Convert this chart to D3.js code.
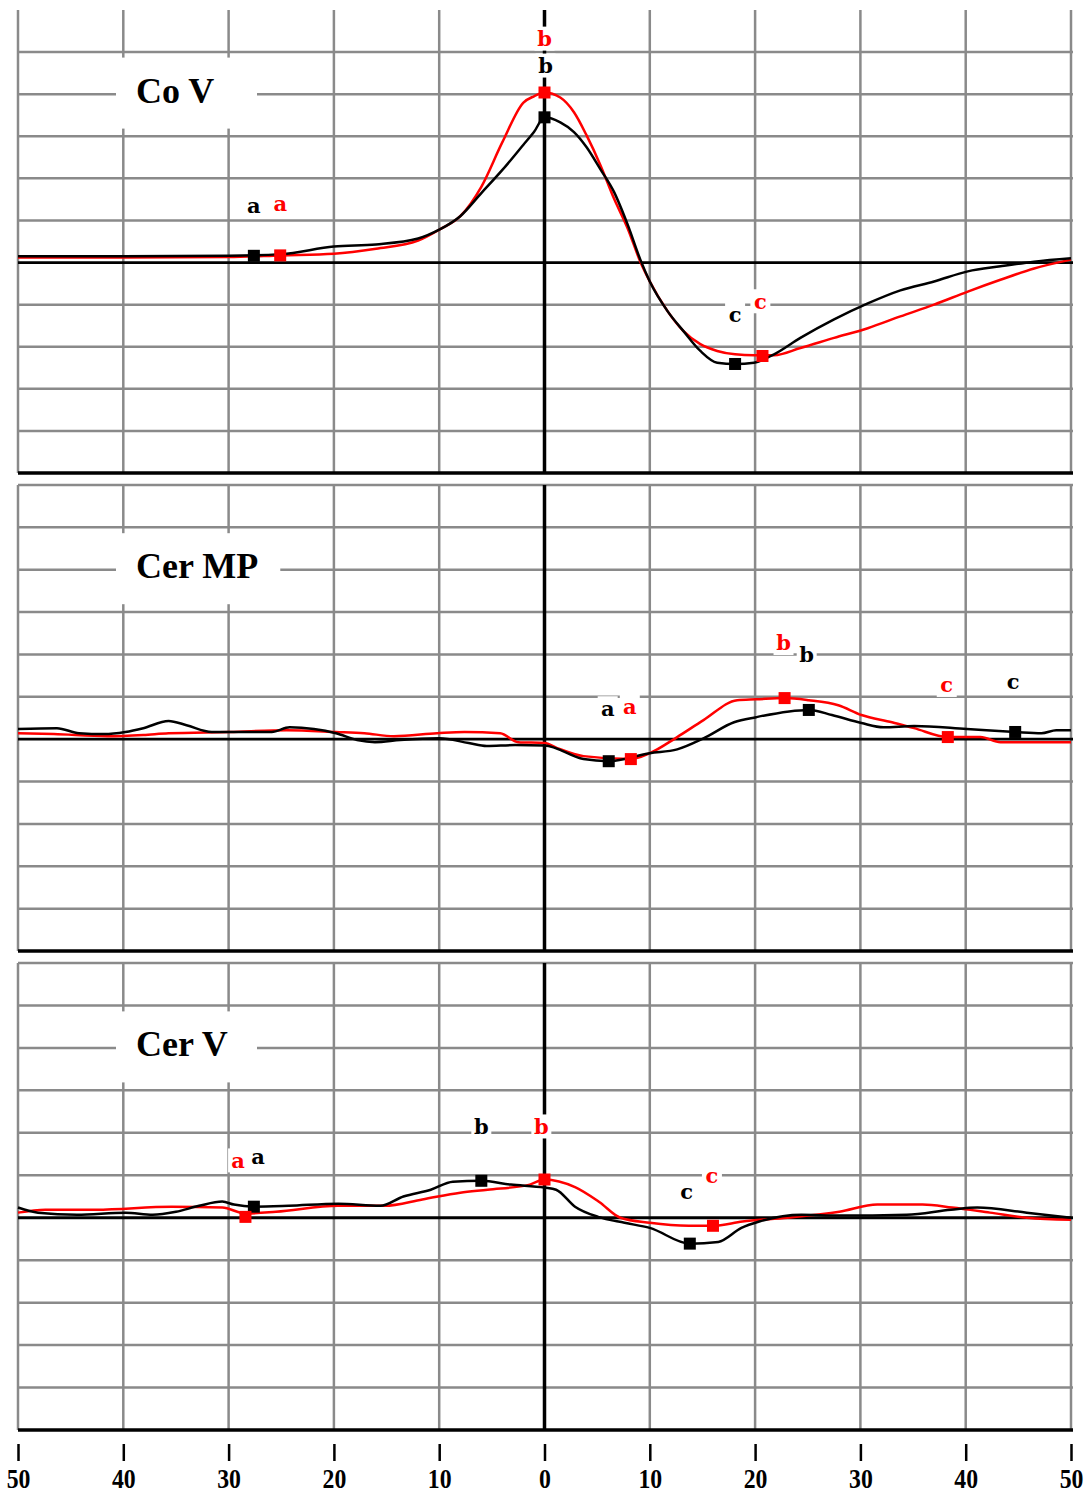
<!DOCTYPE html>
<html>
<head>
<meta charset="utf-8">
<script src="https://cdn.jsdelivr.net/npm/d3@7"></script>
<style>
  body { margin: 0; background: #fff; }
  svg { display: block; }
</style>
</head>
<body>
<svg id="svg"></svg>
<script>
// x axis: ms around the sync point, labels shown without sign
const xTicks = [-50, -40, -30, -20, -10, 0, 10, 20, 30, 40, 50];
const panelTitles = ['Co V', 'Cer MP', 'Cer V'];

// y values are in grid units (one grid cell = 1)
// --- Co V
const coVTime = [-50, -40, -30, -25, -20, -16, -12, -10, -8, -6, -4, -2, -1, 0, 1.5, 2.8, 4, 5.3, 6.6, 7.9,
  9.1, 10, 11.7, 13.2, 14.8, 16.4, 18.1, 19.9, 21.8, 24.3, 27.5, 30.7, 33.8, 37, 40.2, 43.3, 46.5, 50];
const coVBlack = [0.15, 0.15, 0.16, 0.2, 0.38, 0.43, 0.57, 0.78, 1.1, 1.65, 2.2, 2.8, 3.1, 3.45, 3.33, 3.1, 2.74, 2.22, 1.68, 0.9,
  0.07, -0.45, -1.16, -1.63, -2.1, -2.38, -2.41, -2.38, -2.18, -1.79, -1.35, -0.97, -0.66, -0.45, -0.21, -0.09, 0.02, 0.1];
const coVRed = [0.12, 0.12, 0.13, 0.17, 0.21, 0.33, 0.52, 0.78, 1.1, 1.8, 2.86, 3.8, 3.95, 4.04, 3.92, 3.57, 3.02, 2.32, 1.52, 0.81,
  0.02, -0.45, -1.16, -1.63, -1.94, -2.1, -2.18, -2.2, -2.2, -2.03, -1.79, -1.56, -1.28, -1.0, -0.69, -0.41, -0.14, 0.07];
const coVBlackMarks = [[-27.6, 0.16], [0, 3.45], [18.1, -2.41]];
const coVRedMarks = [[-25.1, 0.17], [0, 4.04], [20.7, -2.22]];
const coVBlackLabels = [['a', -27.6, 1.35], ['b', 0.1, 4.68], ['c', 18.1, -1.23]];
const coVRedLabels = [['a', -25.1, 1.39], ['b', 0, 5.32], ['c', 20.5, -0.92]];

// --- Cer MP
const cerMpBlackTime = [-50, -46.3, -44.2, -41.8, -39.8, -38.1, -35.7, -34, -31.6, -29.6, -25.9, -24.2, -21.9, -19.8,
  -17.8, -16.1, -13.7, -10, -7.2, -5.5, -2.8, 0, 3.7, 6.1, 10, 12.6, 15.1, 18, 20.1, 25.1, 27.3, 30.1, 32.2, 35.1,
  40.1, 44.7, 47.2, 48.6, 50];
const cerMpBlack = [0.24, 0.26, 0.14, 0.12, 0.17, 0.26, 0.43, 0.33, 0.17, 0.17, 0.17, 0.28, 0.24, 0.14,
  -0.02, -0.07, -0.02, 0.02, -0.09, -0.16, -0.14, -0.15, -0.47, -0.52, -0.33, -0.24, 0.02, 0.4, 0.52, 0.69, 0.57, 0.38, 0.28, 0.31,
  0.24, 0.17, 0.14, 0.21, 0.21];
const cerMpRedTime = [-50, -46.6, -41.5, -38.1, -35.7, -29.9, -24.5, -19.8, -17.1, -14.3, -10.2, -7.6, -4.2, -2.5, 0, 1.2,
  3.7, 8.2, 10, 12.6, 15.1, 18.3, 20.1, 22.8, 25.1, 27.9, 30.1, 33, 35.1, 38.3, 41.4, 43.3, 50];
const cerMpRed = [0.14, 0.12, 0.07, 0.1, 0.14, 0.17, 0.21, 0.17, 0.14, 0.07, 0.14, 0.17, 0.14, -0.07, -0.09, -0.21,
  -0.4, -0.47, -0.33, 0.05, 0.45, 0.92, 0.94, 0.97, 0.92, 0.8, 0.57, 0.4, 0.26, 0.05, 0.05, -0.07, -0.07];
const cerMpBlackMarks = [[6.1, -0.52], [25.1, 0.69], [44.7, 0.17]];
const cerMpRedMarks = [[8.2, -0.47], [22.8, 0.97], [38.3, 0.05]];
const cerMpBlackLabels = [['a', 6.0, 0.73], ['b', 24.9, 1.99], ['c', 44.5, 1.35]];
const cerMpRedLabels = [['a', 8.1, 0.76], ['b', 22.7, 2.27], ['c', 38.2, 1.28]];

// --- Cer V
const cerVBlackTime = [-50, -48.1, -44.4, -39.8, -37.2, -35, -32.8, -30.6, -29.5, -27.6, -24.3, -19.6, -15.6, -13.4,
  -10.8, -8.7, -6, -3.2, 0, 1.1, 2.9, 5.1, 7.6, 10, 13.8, 16.5, 18.7, 20.4, 24.4, 27.9, 34.4, 38.6, 41.1, 45.8, 50];
const cerVBlack = [0.24, 0.12, 0.07, 0.12, 0.07, 0.14, 0.28, 0.38, 0.31, 0.26, 0.28, 0.33, 0.28, 0.5,
  0.66, 0.85, 0.87, 0.78, 0.71, 0.66, 0.26, 0.02, -0.12, -0.24, -0.61, -0.57, -0.24, -0.09, 0.07, 0.05, 0.07, 0.19, 0.24, 0.12, 0];
const cerVRedTime = [-50, -47.4, -42.6, -35.4, -30.6, -28.4, -25.5, -19.6, -15.2, -11.6, -8, -5.4, -1.4, 0, 2.9, 5.2,
  7.2, 10, 13.7, 16, 18.8, 23.1, 28, 31.6, 35.9, 38.7, 42.3, 45.8, 50];
const cerVRed = [0.12, 0.19, 0.19, 0.26, 0.24, 0.1, 0.14, 0.28, 0.28, 0.43, 0.59, 0.66, 0.78, 0.9, 0.72, 0.37,
  0, -0.12, -0.19, -0.19, -0.09, 0, 0.14, 0.31, 0.31, 0.24, 0.12, 0, -0.05];
const cerVBlackMarks = [[-27.6, 0.26], [-6, 0.87], [13.8, -0.61]];
const cerVRedMarks = [[-28.4, 0.02], [0, 0.9], [16, -0.19]];
const cerVBlackLabels = [['a', -27.2, 1.44], ['b', -6, 2.15], ['c', 13.5, 0.61]];
const cerVRedLabels = [['a', -29.1, 1.35], ['b', -0.3, 2.15], ['c', 15.9, 0.99]];

const panels = [
  { title: panelTitles[0], top: 10, bottom: 473, topLine: false,
    black: d3.zip(coVTime, coVBlack), red: d3.zip(coVTime, coVRed),
    blackMarks: coVBlackMarks, redMarks: coVRedMarks, blackLabels: coVBlackLabels, redLabels: coVRedLabels },
  { title: panelTitles[1], top: 485, bottom: 951, topLine: true,
    black: d3.zip(cerMpBlackTime, cerMpBlack), red: d3.zip(cerMpRedTime, cerMpRed),
    blackMarks: cerMpBlackMarks, redMarks: cerMpRedMarks, blackLabels: cerMpBlackLabels, redLabels: cerMpRedLabels },
  { title: panelTitles[2], top: 963, bottom: 1430, topLine: true,
    black: d3.zip(cerVBlackTime, cerVBlack), red: d3.zip(cerVRedTime, cerVRed),
    blackMarks: cerVBlackMarks, redMarks: cerVRedMarks, blackLabels: cerVBlackLabels, redLabels: cerVRedLabels }
];

const svg = d3.select('#svg')
  .attr('width', 1089)
  .attr('height', 1494);

svg.append('rect')
  .attr('width', 1089)
  .attr('height', 1494)
  .attr('fill', '#fff');

const x = d3.scaleLinear().domain([-50, 50]).range([18, 1071]);
const gridGray = '#8a8a8a';

panels.forEach(function (p) {
  const y = d3.scaleLinear().domain([-5, 6]).range([p.bottom, p.top]);
  const g = svg.append('g');

  // horizontal grid
  const hLines = d3.range(-4, p.topLine ? 7 : 6).filter(function (v) { return v !== 0; });
  g.selectAll('.h')
    .data(hLines)
    .enter()
    .append('line')
    .attr('x1', x(-50)).attr('x2', x(50) + 2)
    .attr('y1', function (d) { return y(d); })
    .attr('y2', function (d) { return y(d); })
    .attr('stroke', gridGray)
    .attr('stroke-width', 2.5);

  // vertical grid
  g.selectAll('.v')
    .data(xTicks.filter(function (t) { return t !== 0; }))
    .enter()
    .append('line')
    .attr('x1', function (d) { return x(d); })
    .attr('x2', function (d) { return x(d); })
    .attr('y1', y(6)).attr('y2', y(-5))
    .attr('stroke', gridGray)
    .attr('stroke-width', 2.5);

  // title box
  const title = g.append('text')
    .attr('x', 136)
    .attr('y', y(3.8))
    .attr('font-family', '"Liberation Serif", "Times New Roman", serif')
    .attr('font-weight', 'bold')
    .attr('font-size', 36)
    .text(p.title);
  const tw = title.node().getComputedTextLength();
  g.insert('rect', 'text')
    .attr('x', 116)
    .attr('y', y(3.8) - 45)
    .attr('width', Math.max(141, tw + 42))
    .attr('height', 71)
    .attr('fill', '#fff');

  // zero line, center line and bottom border
  g.append('line')
    .attr('x1', x(-50)).attr('x2', x(50) + 2)
    .attr('y1', y(0)).attr('y2', y(0))
    .attr('stroke', '#000').attr('stroke-width', 2.8);
  g.append('line')
    .attr('x1', x(0)).attr('x2', x(0))
    .attr('y1', y(6)).attr('y2', y(-5))
    .attr('stroke', '#000').attr('stroke-width', 3.5);
  g.append('line')
    .attr('x1', x(-50)).attr('x2', x(50) + 2)
    .attr('y1', y(-5)).attr('y2', y(-5))
    .attr('stroke', '#000').attr('stroke-width', 3.5);

  const line = d3.line()
    .x(function (d) { return x(d[0]); })
    .y(function (d) { return y(d[1]); })
    .curve(d3.curveMonotoneX);

  g.append('path')
    .attr('d', line(p.red))
    .attr('fill', 'none')
    .attr('stroke', '#ff0000')
    .attr('stroke-width', 2.5);
  g.append('path')
    .attr('d', line(p.black))
    .attr('fill', 'none')
    .attr('stroke', '#000')
    .attr('stroke-width', 2.5);

  // markers
  [[p.blackMarks, '#000'], [p.redMarks, '#ff0000']].forEach(function (m) {
    g.selectAll(null)
      .data(m[0])
      .enter()
      .append('rect')
      .attr('x', function (d) { return x(d[0]) - 6; })
      .attr('y', function (d) { return y(d[1]) - 6; })
      .attr('width', 12)
      .attr('height', 12)
      .attr('fill', m[1]);
  });

  // peak labels: white backing first, then the letters
  const labels = p.redLabels.map(function (d) { return d.concat('#ff0000'); })
    .concat(p.blackLabels.map(function (d) { return d.concat('#000'); }));
  g.selectAll(null)
    .data(labels)
    .enter()
    .append('rect')
    .attr('x', function (d) { return x(d[1]) - 10; })
    .attr('y', function (d) { return y(d[2]) - 12; })
    .attr('width', 20).attr('height', 24)
    .attr('fill', '#fff');
  g.selectAll(null)
    .data(labels)
    .enter()
    .append('text')
    .attr('x', function (d) { return x(d[1]); })
    .attr('y', function (d) { return y(d[2]); })
    .attr('text-anchor', 'middle')
    .attr('dy', '0.35em')
    .attr('font-family', '"DejaVu Serif", serif')
    .attr('font-weight', 'bold')
    .attr('font-size', 21)
    .attr('fill', function (d) { return d[3]; })
    .text(function (d) { return d[0]; });
});

// bottom axis
const axis = d3.axisBottom(x)
  .tickValues(xTicks)
  .tickSize(17)
  .tickPadding(8)
  .tickFormat(function (d) { return Math.abs(d); });

const ax = svg.append('g')
  .attr('transform', 'translate(0,1444)')
  .call(axis);
ax.select('.domain').remove();
ax.selectAll('.tick line')
  .attr('stroke', '#000')
  .attr('stroke-width', 2.5);
ax.selectAll('.tick text')
  .attr('fill', '#000')
  .attr('font-family', '"Liberation Serif", "Times New Roman", serif')
  .attr('font-weight', 'bold')
  .attr('font-size', 27)
  .attr('transform', 'scale(0.88,1)');
</script>
</body>
</html>
